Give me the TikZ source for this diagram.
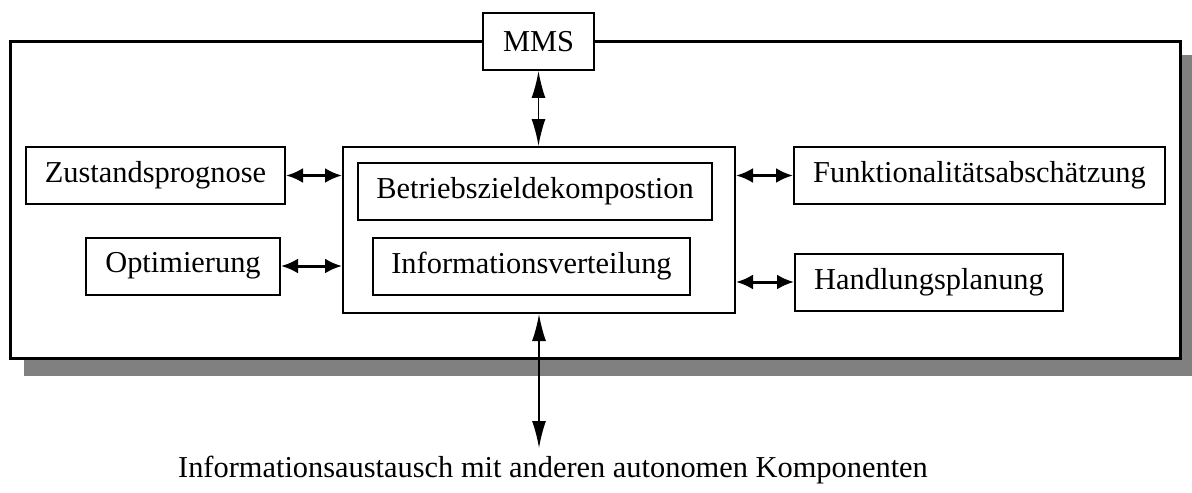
\documentclass[tikz,border=0pt]{standalone}
\usepackage{fontspec}
\setmainfont{Liberation Serif}
\usetikzlibrary{arrows.meta}

\begin{document}
\begin{tikzpicture}[x=0.5pt, y=-0.5pt, font=\fontsize{15.2}{18}\selectfont,
    box/.style = {draw, line width=1pt, fill=white, minimum height=28.5pt, inner sep=0pt},
    link/.style = {{Latex[length=8.5pt,width=7.5pt]}-{Latex[length=8.5pt,width=7.5pt]}, line width=1.5pt},
    vlink/.style = {{Latex[length=13.5pt,width=7pt]}-{Latex[length=13.5pt,width=7pt]}, line width=0.8pt}]
    \useasboundingbox (0,0) rectangle (1192,492);
    % Rahmen mit Schatten
    \fill[gray] (24,55) rectangle (1192,376);
    \draw[line width=1.5pt, fill=white] (10,42) rectangle (1180,358);
    \node[draw, line width=1pt, minimum width=196pt, minimum height=83pt] (mitte) at (539,230) {};
    \node[box, minimum width=55.5pt] (mms) at (538.5,41.5) {MMS};
    \node[box, minimum width=129.5pt] (zustand) at (155.5,175.5) {Zustandsprognose};
    \node[box, minimum width=97pt] (optim) at (183,266) {Optimierung};
    \node[box, minimum width=177pt] (betrieb) at (535,191) {Betriebszieldekompostion};
    \node[box, minimum width=158.5pt] (info) at (531.5,266) {Informationsverteilung};
    \node[box, minimum width=185.5pt] (funkt) at (979.5,175.5) {Funktionalitätsabschätzung};
    \node[box, minimum width=134pt] (handlung) at (929,282) {Handlungsplanung};
    \node (austausch) at (553,470) {Informationsaustausch mit anderen autonomen Komponenten};
    \coordinate (unten) at (539,448);
    % Verbindungen
    \draw[vlink] (mms.south) -- (mms.south |- mitte.north);
    \draw[vlink] (mitte.south) -- (unten);
    \draw[link] (zustand.east) -- (zustand -| mitte.west);
    \draw[link] (optim.east) -- (optim -| mitte.west);
    \draw[link] (mitte.east |- funkt) -- (funkt.west);
    \draw[link] (mitte.east |- handlung) -- (handlung.west);
\end{tikzpicture}
\end{document}
